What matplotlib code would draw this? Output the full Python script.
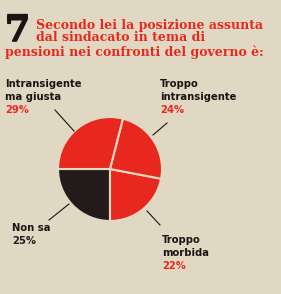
import matplotlib
matplotlib.use("Agg")
import matplotlib.pyplot as plt
import matplotlib.patheffects as pe
from matplotlib.lines import Line2D

labels = ["Non sa", "Troppo\nmorbida", "Troppo\nintransigente", "Intransigente\nma giusta"]
values = [25, 22, 24, 29]
pcts = ["25%", "22%", "24%", "29%"]
colors = ["#231b1b", "#e8281f", "#e8281f", "#e8281f"]
pct_colors = ["#231b1b", "#e8281f", "#e8281f", "#e8281f"]

bg = "#e0d8c2"
W, H = 281, 294

fig = plt.figure(figsize=(W / 100, H / 100), dpi=100, facecolor=bg)


def px(x, y):
    return x / W, 1 - y / H


# pie, centre (110, 169), radius 52 px
cx, cy, r = 110, 169, 52
ax = fig.add_axes([(cx - r) / W, (H - cy - r) / H, 2 * r / W, 2 * r / H])
ax.pie(values, colors=colors, startangle=180, counterclock=True,
       wedgeprops=dict(edgecolor=bg, linewidth=1.5))
ax.set_xlim(-1, 1)
ax.set_ylim(-1, 1)
ax.set_aspect("auto")
ax.axis("off")

# title
fig.text(*px(5, 41), "7", fontsize=26, fontweight="heavy", family="DejaVu Serif",
         color="#1a1414", va="baseline", ha="left",
         path_effects=[pe.withStroke(linewidth=1.2, foreground="#1a1414")])
title_font = dict(fontsize=9, fontweight="bold", family="DejaVu Serif",
                  color="#e8281f", va="baseline", ha="left")
fig.text(*px(36, 29), "Secondo lei la posizione assunta", **title_font)
fig.text(*px(36, 41), "dal sindacato in tema di", **title_font)
fig.text(*px(5, 56), "pensioni nei confronti del governo è:", **title_font)

# labels: (x, y top line baseline)
lab_pos = [(12, 231), (162, 243), (160, 87), (5, 87)]
lab_font = dict(fontsize=8, fontweight="bold", family="DejaVu Sans",
                fontstretch="condensed", ha="left", va="baseline")
for (x, y), lab, pct, pc in zip(lab_pos, labels, pcts, pct_colors):
    n = lab.count("\n") + 1
    for i, line in enumerate(lab.split("\n")):
        fig.text(*px(x, y + 13 * i), line, color="#1a1414", **lab_font)
    fig.text(*px(x, y + 13 * n), pct, color=pc, **lab_font)

# leader lines
leaders = [((49, 220), (69, 204)), ((147, 211), (160, 225)),
           ((167, 123), (153, 135)), ((55, 110), (74, 131))]
for (x0, y0), (x1, y1) in leaders:
    a, b = px(x0, y0)
    c, d = px(x1, y1)
    fig.add_artist(Line2D([a, c], [b, d], transform=fig.transFigure,
                          color="#1a1414", linewidth=0.8))

fig.savefig("out.png", dpi=100, facecolor=bg)
